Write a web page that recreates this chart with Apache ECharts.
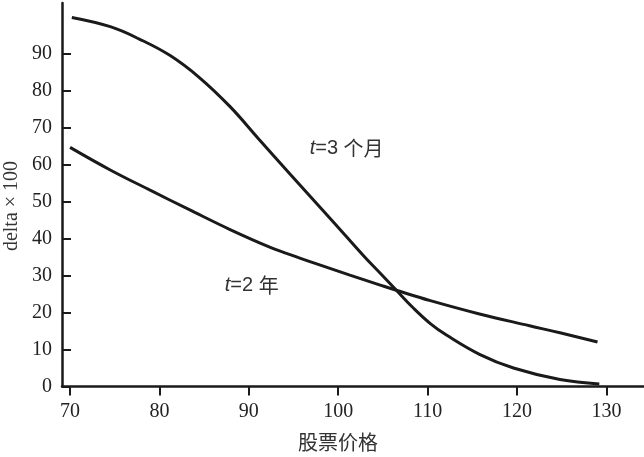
<!DOCTYPE html>
<html>
<head>
<meta charset="utf-8">
<script src="https://cdn.jsdelivr.net/npm/echarts@6/dist/echarts.min.js"></script>
<style>
html,body{margin:0;padding:0;background:#fff;}
#chart{width:644px;height:457px;}
</style>
</head>
<body>
<div id="chart"></div>
<script>
// Stock price (x) and delta x 100 (y) for t = 3 months
const price3m = [70.2, 74.5, 77.8, 81.2, 84.5, 87.9, 91.2, 94.6, 99.4, 102.8, 104.7, 106.5, 108.4, 110.3, 112.1, 115.8, 119.6, 124.8, 129.2];
const delta3m = [99.7, 97.2, 93.8, 89.4, 83.4, 75.6, 66.6, 57.4, 44.6, 35.4, 30.6, 26.0, 21.2, 17.0, 13.9, 8.7, 5.0, 1.9, 0.7];
// t = 2 years
const price2y = [70.0, 74.5, 78.9, 83.4, 87.9, 92.4, 95.7, 98.0, 101.3, 104.7, 106.5, 110.3, 115.8, 121.4, 124.8, 129.0];
const delta2y = [64.6, 58.5, 53.1, 47.7, 42.4, 37.6, 34.7, 32.8, 30.1, 27.4, 26.0, 23.2, 19.6, 16.4, 14.5, 12.0];
// Tick labels
const xTicks = [70, 80, 90, 100, 110, 120, 130];
const yTicks = [0, 10, 20, 30, 40, 50, 60, 70, 80, 90];
// Curve labels (text and anchor in data coordinates)
const curveLabels = [
  { text: '{i|t}{n|=3 }{c|个月}', at: [96.8, 64.4] },
  { text: '{i|t}{n|=2 }{c|年}', at: [87.3, 27.4] }
];
const xName = '股票价格';
const yName = 'delta × 100';

const zip = (xs, ys) => xs.map((x, i) => [x, ys[i]]);
const ink = '#1a1a1a';
const serif = 'Liberation Serif';
const rich = {
  i: { fontStyle: 'italic', fontFamily: 'Liberation Sans', fontSize: 20, color: '#333' },
  n: { fontFamily: 'Liberation Sans', fontSize: 20, color: '#333' },
  c: { fontFamily: 'Noto Sans CJK SC', fontSize: 20, color: '#333' }
};

const chart = echarts.init(document.getElementById('chart'), null, { renderer: 'canvas' });
chart.setOption({
  animation: false,
  backgroundColor: '#fff',
  grid: { left: 62, right: 0, top: 3, bottom: 70.5 },
  xAxis: {
    type: 'value', min: 69.1, max: 134.2,
    axisLine: { show: true, lineStyle: { color: ink, width: 2.5 } },
    axisTick: { show: true, length: 9, inside: false, customValues: xTicks, lineStyle: { color: ink, width: 2 } },
    axisLabel: { customValues: xTicks, margin: 15, fontFamily: serif, fontSize: 20, color: '#222' },
    splitLine: { show: false }
  },
  yAxis: {
    type: 'value', min: 0, max: 103.6,
    axisLine: { show: true, lineStyle: { color: ink, width: 2.5 } },
    axisTick: { show: true, length: 9, inside: true, customValues: yTicks, lineStyle: { color: ink, width: 2 } },
    axisLabel: { customValues: yTicks, margin: 10, fontFamily: serif, fontSize: 20, color: '#222' },
    splitLine: { show: false }
  },
  series: [
    {
      type: 'line', name: 't=3 个月', data: zip(price3m, delta3m),
      smooth: 0.4, showSymbol: false,
      lineStyle: { color: ink, width: 3 },
      markPoint: {
        symbol: 'circle', symbolSize: 0,
        label: { show: true, position: 'right', distance: 0, formatter: curveLabels[0].text, rich: rich },
        data: [{ coord: curveLabels[0].at }]
      }
    },
    {
      type: 'line', name: 't=2 年', data: zip(price2y, delta2y),
      smooth: 0.4, showSymbol: false,
      lineStyle: { color: ink, width: 3 },
      markPoint: {
        symbol: 'circle', symbolSize: 0,
        label: { show: true, position: 'right', distance: 0, formatter: curveLabels[1].text, rich: rich },
        data: [{ coord: curveLabels[1].at }]
      }
    }
  ],
  graphic: [
    {
      type: 'text', x: 12, y: 206, rotation: Math.PI / 2,
      style: { text: yName, font: '20px "Liberation Serif"', fill: '#333', textAlign: 'center', textVerticalAlign: 'middle' }
    },
    {
      type: 'text', x: 338, y: 442,
      style: { text: xName, font: '20px "Noto Sans CJK SC"', fill: '#333', textAlign: 'center', textVerticalAlign: 'middle' }
    }
  ]
});
</script>
</body>
</html>
